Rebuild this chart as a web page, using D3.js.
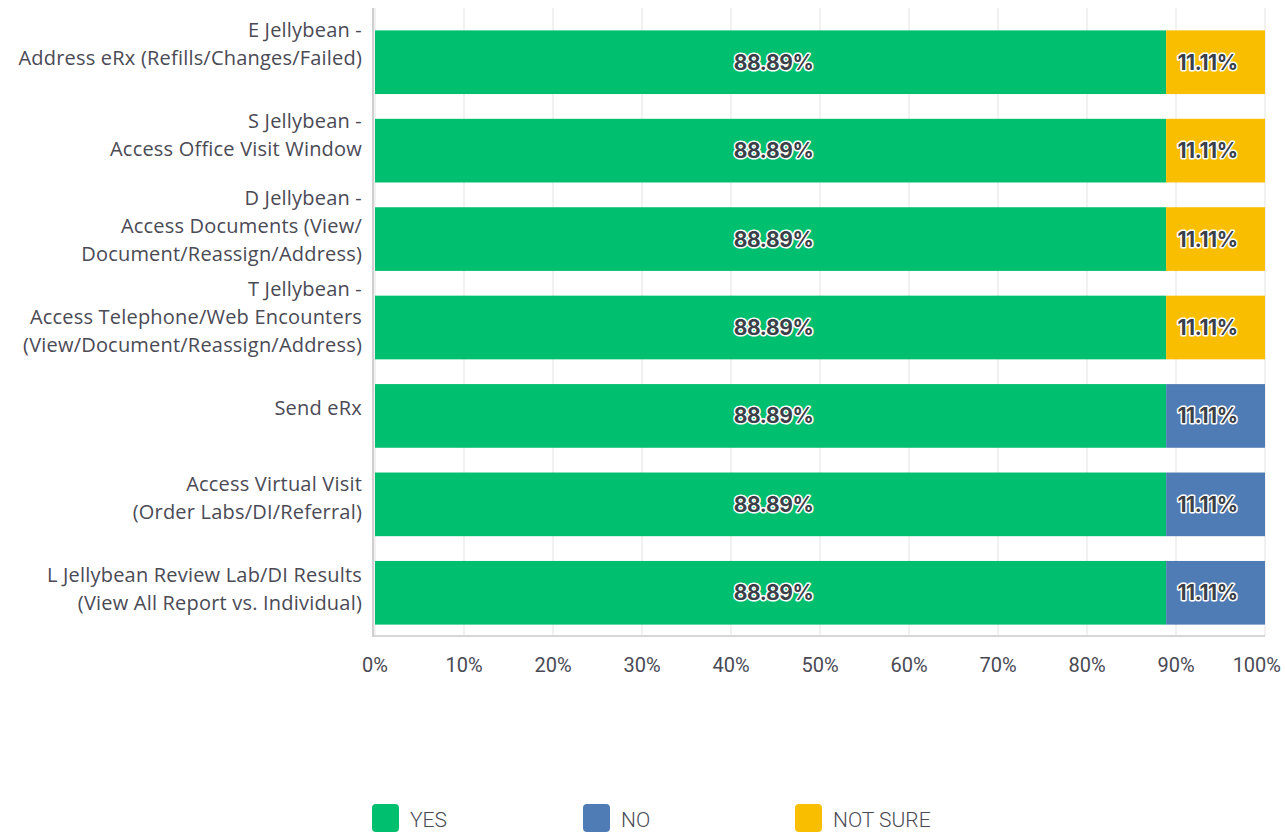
<!DOCTYPE html>
<html>
<head>
<meta charset="utf-8">
<script src="https://cdn.jsdelivr.net/npm/d3@7"></script>
<style>
  body { margin: 0; background: #fff; }
  svg { display: block; }
</style>
</head>
<body>
<script>
// categories, one entry per line of the label
var categories = [
    ["E Jellybean -", "Address eRx (Refills/Changes/Failed)"],
    ["S Jellybean -", "Access Office Visit Window"],
    ["D Jellybean -", "Access Documents (View/", "Document/Reassign/Address)"],
    ["T Jellybean -", "Access Telephone/Web Encounters", "(View/Document/Reassign/Address)"],
    ["Send eRx"],
    ["Access Virtual Visit", "(Order Labs/DI/Referral)"],
    ["L Jellybean Review Lab/DI Results", "(View All Report vs. Individual)"]
];
var seriesNames = ["YES", "NO", "NOT SURE"];
var yesValues = [88.89, 88.89, 88.89, 88.89, 88.89, 88.89, 88.89];
var noValues = [0, 0, 0, 0, 11.11, 11.11, 11.11];
var notSureValues = [11.11, 11.11, 11.11, 11.11, 0, 0, 0];
var tickValues = [0, 10, 20, 30, 40, 50, 60, 70, 80, 90, 100];

var colors = ["#00bf6f", "#507cb5", "#f9be00"];

var width = 1285;
var height = 836;
var padding = {top: 18, right: 20, bottom: 199, left: 375}; // margin of canvas

var svg = d3.select('body')
    .append('svg')
    .attr('width', width)
    .attr('height', height);

// build rows for the stack
var rows = categories.map(function(c, i) {
    return {key: i, YES: yesValues[i], NO: noValues[i], "NOT SURE": notSureValues[i]};
});
var stacked = d3.stack().keys(seriesNames)(rows);

var x = d3.scaleLinear()
    .domain([0, 100])
    .range([padding.left, width - padding.right]);

var y = d3.scaleBand()
    .domain(d3.range(categories.length))
    .range([padding.top, height - padding.bottom])
    .paddingInner(0.28)
    .paddingOuter(0.14);

var plotTop = 8;
var plotBottom = 636;

// gridlines
svg.append('g')
    .selectAll('line')
    .data(tickValues)
    .enter()
    .append('line')
    .attr('x1', function(d) { return x(d); })
    .attr('x2', function(d) { return x(d); })
    .attr('y1', plotTop)
    .attr('y2', plotBottom)
    .attr('stroke', '#ececec')
    .attr('stroke-width', 1.5);

// bottom and left axis lines
svg.append('line')
    .attr('x1', x(0) - 2).attr('x2', x(100))
    .attr('y1', plotBottom).attr('y2', plotBottom)
    .attr('stroke', '#d6d6d6').attr('stroke-width', 2);
svg.append('line')
    .attr('x1', x(0) - 2).attr('x2', x(0) - 2)
    .attr('y1', plotTop).attr('y2', plotBottom + 1)
    .attr('stroke', '#cfcfcf').attr('stroke-width', 2);

// bars
var layers = svg.selectAll('g.layer')
    .data(stacked)
    .enter()
    .append('g')
    .attr('class', 'layer')
    .attr('fill', function(d, i) { return colors[i]; });

layers.selectAll('rect')
    .data(function(d) { return d; })
    .enter()
    .append('rect')
    .attr('x', function(d) { return x(d[0]); })
    .attr('y', function(d) { return y(d.data.key); })
    .attr('width', function(d) { return x(d[1]) - x(d[0]); })
    .attr('height', y.bandwidth());

// value labels
layers.selectAll('text')
    .data(function(d) { return d.filter(function(e) { return e[1] - e[0] > 0; }); })
    .enter()
    .append('text')
    .attr('x', function(d) {
        var mid = (x(d[0]) + x(d[1])) / 2;
        return d[1] - d[0] > 50 ? mid + 3 : mid - 8;
    })
    .attr('y', function(d) { return y(d.data.key) + y.bandwidth() / 2; })
    .attr('dy', '0.36em')
    .attr('text-anchor', 'middle')
    .attr('font-family', 'Inter, Roboto, sans-serif')
    .attr('font-weight', 700)
    .attr('font-size', 21)
    .attr('letter-spacing', -0.4)
    .attr('fill', '#3b3f48')
    .attr('stroke', '#fff')
    .attr('stroke-width', 3)
    .attr('stroke-linejoin', 'round')
    .attr('paint-order', 'stroke')
    .text(function(d) { return (d[1] - d[0]).toFixed(2) + '%'; });

// category labels
var lineHeight = 28;
var labels = svg.append('g')
    .selectAll('text')
    .data(categories)
    .enter()
    .append('text')
    .attr('text-anchor', 'end')
    .attr('font-family', '"Open Sans", sans-serif')
    .attr('font-size', 20)
    .attr('letter-spacing', 0.2)
    .attr('fill', '#4a4a55')
    .attr('transform', function(d, i) {
        var cy = y(i) + y.bandwidth() / 2 - 18 + i * 2.4;
        var top = cy - (d.length - 1) * lineHeight / 2;
        return 'translate(' + 362 + ',' + top + ')';
    });

labels.selectAll('tspan')
    .data(function(d) { return d; })
    .enter()
    .append('tspan')
    .attr('x', 0)
    .attr('y', function(d, i) { return i * lineHeight; })
    .attr('dy', '0.35em')
    .text(function(d) { return d; });

// x tick labels
svg.append('g')
    .selectAll('text')
    .data(tickValues)
    .enter()
    .append('text')
    .attr('x', function(d) { return d === 100 ? x(d) + 16 : x(d); })
    .attr('y', 665)
    .attr('dy', '0.35em')
    .attr('text-anchor', function(d) { return d === 100 ? 'end' : 'middle'; })
    .attr('font-family', 'Roboto, sans-serif')
    .attr('font-size', 20)
    .attr('fill', '#4a4a55')
    .text(function(d) { return d + '%'; });

// legend
var legendX = [372, 583, 795];
var legend = svg.append('g')
    .selectAll('g')
    .data(seriesNames)
    .enter()
    .append('g')
    .attr('transform', function(d, i) { return 'translate(' + legendX[i] + ',' + 804 + ')'; });

legend.append('rect')
    .attr('width', 27)
    .attr('height', 28)
    .attr('rx', 4)
    .attr('fill', function(d, i) { return colors[i]; });

legend.append('text')
    .attr('x', 38)
    .attr('y', 15)
    .attr('dy', '0.36em')
    .attr('font-family', 'Roboto, sans-serif')
    .attr('font-weight', 300)
    .attr('font-size', 21)
    .attr('fill', '#4a4a55')
    .text(function(d) { return d; });
</script>
</body>
</html>
